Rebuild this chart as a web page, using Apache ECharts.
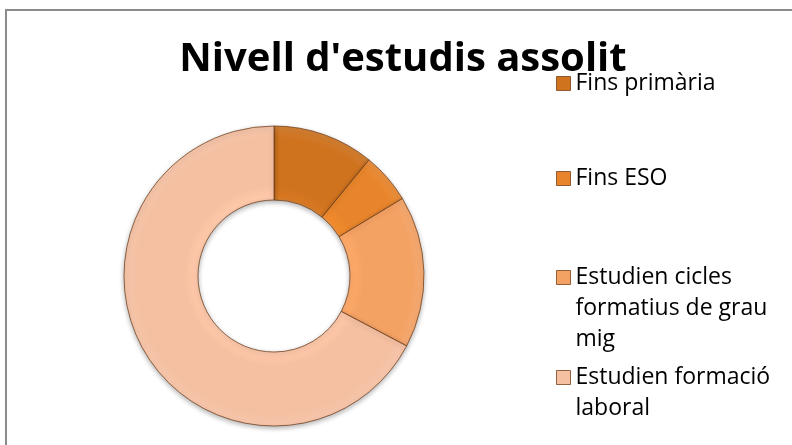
<!DOCTYPE html>
<html>
<head>
<meta charset="utf-8">
<script src="https://cdn.jsdelivr.net/npm/echarts@6/dist/echarts.min.js"></script>
<style>
html,body{margin:0;padding:0;background:#fff;}
#frame{position:absolute;left:5px;top:9px;width:800px;height:450px;border-top:2px solid #8c8c8c;border-left:2px solid #8c8c8c;box-sizing:border-box;}
#chart{position:absolute;left:0;top:0;width:792px;height:445px;}
</style>
</head>
<body>
<div id="frame"></div>
<div id="chart"></div>
<script>
const titleText = "Nivell d'estudis assolit";
const categories = ["Fins primària", "Fins ESO", "Estudien cicles formatius de grau mig", "Estudien formació laboral"];
const legendLabels = ["Fins primària", "Fins ESO", "Estudien cicles\nformatius de grau\nmig", "Estudien formació\nlaboral"];
const values = [6, 3, 9, 37];
const colors = ["#CF731F", "#E8852C", "#F4A264", "#F5C0A2"];

const chart = echarts.init(document.getElementById('chart'), null, {renderer: 'canvas'});
const LH = 31;
const ICON = 14;
const firstLineCenters = [83, 178, 277, 377];
const legends = categories.map((c, i) => {
  const lines = legendLabels[i].split('\n').length;
  const h = lines * LH;
  const y0 = (LH - ICON) / 2;
  // icon box spans the whole text height; the square sits beside the first line
  const iconPath = 'path://M0,0M' + ICON + ',' + h + 'M0,' + y0 + 'h' + ICON + 'v' + ICON + 'h-' + ICON + 'z';
  return {
    data: [c],
    orient: 'vertical',
    left: 556,
    top: firstLineCenters[i] - LH / 2,
    padding: 0,
    icon: iconPath,
    itemWidth: ICON,
    itemHeight: h,
    itemGap: 0,
    selectedMode: false,
    itemStyle: {color: colors[i], borderColor: 'rgba(120,65,25,0.8)', borderWidth: 1},
    formatter: () => legendLabels[i],
    textStyle: {fontFamily: '"Open Sans", sans-serif', fontSize: 23, color: '#000', lineHeight: LH}
  };
});

function ringColor(base) {
  const c = echarts.color;
  return {
    type: 'radial', x: 274, y: 276, r: 150, global: true,
    colorStops: [
      {offset: 0.0, color: base},
      {offset: 0.505, color: c.lift(base, 0.1)},
      {offset: 0.53, color: c.lift(base, -0.04)},
      {offset: 0.6, color: base},
      {offset: 0.92, color: base},
      {offset: 0.97, color: c.lift(base, 0.06)},
      {offset: 1.0, color: c.lift(base, 0.1)}
    ]
  };
}

chart.setOption({
  animation: false,
  title: {
    text: titleText,
    left: 403,
    textAlign: 'center',
    top: 40,
    padding: 0,
    textStyle: {fontFamily: '"Open Sans", sans-serif', fontWeight: 'bold', fontSize: 40, color: '#000'}
  },
  legend: legends,
  series: [{
    type: 'pie',
    center: [274, 276],
    radius: [76, 150],
    startAngle: 90,
    clockwise: true,
    label: {show: false},
    labelLine: {show: false},
    emphasis: {disabled: true},
    itemStyle: {borderColor: 'rgba(110,60,25,0.75)', borderWidth: 1, shadowBlur: 5, shadowColor: 'rgba(0,0,0,0.3)', shadowOffsetY: 2},
    data: categories.map((c, i) => ({name: c, value: values[i], itemStyle: {color: ringColor(colors[i])}}))
  }]
});
</script>
</body>
</html>
